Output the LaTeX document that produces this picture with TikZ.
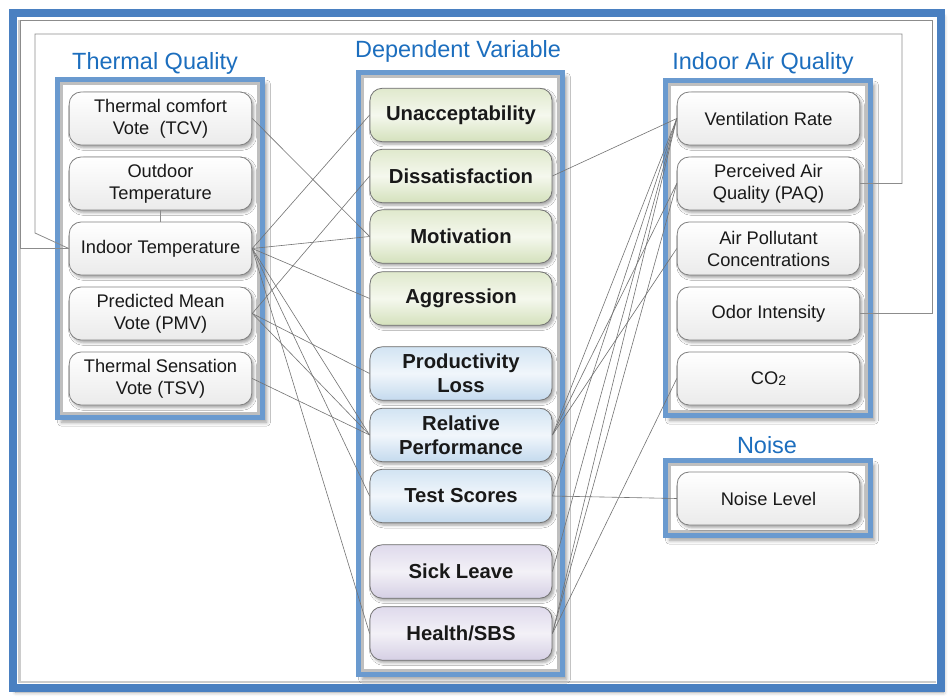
\documentclass[tikz,border=0pt]{standalone}
\usepackage{fontspec}
\setmainfont{Liberation Sans}
\usetikzlibrary{shadows.blur}

\definecolor{framebl}{RGB}{74,128,193}
\definecolor{boxbl}{RGB}{106,154,207}
\definecolor{headbl}{RGB}{28,110,190}
\definecolor{nodeln}{RGB}{128,128,128}

\begin{document}
\begin{tikzpicture}[x=0.75pt,y=-0.75pt,
    var/.style={draw=nodeln, line width=0.6pt, rounded corners=9pt,
      top color=white, bottom color=black!8,
      minimum width=137pt, minimum height=39.75pt, inner sep=0pt, align=center,
      font=\fontsize{13.7}{16.5}\selectfont, text=black!90,
      blur shadow={shadow xshift=1.6pt, shadow yshift=-2pt, shadow blur radius=2pt, shadow opacity=35}},
    dep/.style={var, draw=black!55, minimum width=136.5pt, minimum height=40pt,
      font=\fontsize{15.2}{18}\selectfont\bfseries},
    depgreen/.style={dep, top color={rgb,255:red,224;green,233;blue,205}, bottom color={rgb,255:red,212;green,225;blue,188},
      middle color={rgb,255:red,245;green,248;blue,238}},
    depblue/.style={dep, top color={rgb,255:red,210;green,228;blue,243}, bottom color={rgb,255:red,196;green,218;blue,238},
      middle color={rgb,255:red,241;green,246;blue,251}},
    deppurple/.style={dep, top color={rgb,255:red,223;green,218;blue,236}, bottom color={rgb,255:red,213;green,207;blue,228},
      middle color={rgb,255:red,243;green,241;blue,247}},
    grpbox/.style={draw=boxbl, line width=3.75pt, fill=white,
      blur shadow={shadow xshift=3pt, shadow yshift=-3.5pt, shadow blur radius=3pt, shadow opacity=40}},
    bevel/.style={draw=black!25, line width=2pt},
    header/.style={text=headbl, font=\fontsize{17.6}{20}\selectfont},
    link/.style={draw=black!55, line width=0.45pt},
    route/.style={draw=black!45, line width=0.6pt}]

  \useasboundingbox (0,0) rectangle (948,698);

  % outer frame
  \draw[draw=framebl, line width=6pt, fill=white,
    blur shadow={shadow xshift=2pt, shadow yshift=-3pt, shadow blur radius=3pt, shadow opacity=40}]
    (13,13) rectangle (941,688);
  \draw[bevel, draw=black!20] (19.5,20) -- (19.5,682) -- (936,682);

  % group boxes
  \draw[grpbox] (57.5,79.5) rectangle (262.5,417.5);
  \draw[bevel] (61.3,83.3) rectangle (258.7,413.7);
  \draw[grpbox] (358.5,72.5) rectangle (562.5,674.5);
  \draw[bevel] (362.3,76.3) rectangle (558.7,670.7);
  \draw[grpbox] (665.5,80.5) rectangle (870.5,415.5);
  \draw[bevel] (669.3,84.3) rectangle (866.7,411.7);
  \draw[grpbox] (665.5,460.5) rectangle (870.5,535.5);
  \draw[bevel] (669.3,464.3) rectangle (866.7,531.7);

  % headers
  \node[header] (hdrthermal) at (155,63) {Thermal Quality};
  \node[header] (hdrdep) at (458,51) {Dependent Variable};
  \node[header] (hdriaq) at (763,63) {Indoor Air Quality};
  \node[header] (hdrnoise) at (767,445) {Noise};

  % thermal quality
  \node[var] (tcv) at (160.5,118.5) {Thermal comfort\\Vote\ \ (TCV)};
  \node[var] (outdoor) at (160.5,183.5) {Outdoor\\Temperature};
  \node[var] (indoor) at (160.5,248.5) {Indoor Temperature};
  \node[var] (pmv) at (160.5,313.5) {Predicted Mean\\Vote (PMV)};
  \node[var] (tsv) at (160.5,378.5) {Thermal Sensation\\Vote (TSV)};

  % dependent variables
  \node[depgreen] (unaccept) at (461,115) {Unacceptability};
  \node[depgreen] (dissat) at (461,176) {Dissatisfaction};
  \node[depgreen] (motiv) at (461,236.5) {Motivation};
  \node[depgreen] (aggr) at (461,298.5) {Aggression};
  \node[depblue] (prodloss) at (461,373.5) {Productivity\\Loss};
  \node[depblue] (relperf) at (461,435) {Relative\\Performance};
  \node[depblue] (testsc) at (461,496) {Test Scores};
  \node[deppurple] (sickleave) at (461,571.5) {Sick Leave};
  \node[deppurple] (health) at (461,633.5) {Health/SBS};

  % indoor air quality and noise
  \node[var] (vent) at (768.5,118.5) {Ventilation Rate};
  \node[var] (paq) at (768.5,183.5) {Perceived Air\\Quality (PAQ)};
  \node[var] (airpol) at (768.5,248.5) {Air Pollutant\\Concentrations};
  \node[var] (odor) at (768.5,313.5) {Odor Intensity};
  \node[var] (cotwo) at (768.5,378.5) {CO\raisebox{-0.6pt}{\fontsize{10.5}{12}\selectfont 2}};
  \node[var] (noiselvl) at (768.5,498.5) {Noise Level};

  % routed lines along the frame
  \coordinate (routeA) at (20,20);
  \coordinate (routeB) at (932,20);
  \coordinate (routeC) at (35,233);
  \coordinate (routeD) at (35,34);
  \coordinate (routeE) at (902,34);
  \draw[route] (indoor.west) -| (routeA) -- (routeB) |- (odor.east);
  \draw[route] (indoor.west) -- (routeC) -- (routeD) -- (routeE) |- (paq.east);
  \draw[route] (outdoor) -- (indoor);

  \begin{scope}[link]
    \draw (tcv.east) to (motiv.west);
    \draw (indoor.east) to (unaccept.west);
    \draw (indoor.east) to (motiv.west);
    \draw (indoor.east) to (aggr.west);
    \draw (indoor.east) to (relperf.west);
    \draw (indoor.east) to (testsc.west);
    \draw (indoor.east) to (health.west);
    \draw (pmv.east) to (dissat.west);
    \draw (pmv.east) to (prodloss.west);
    \draw (pmv.east) to (relperf.west);
    \draw (tsv.east) to (relperf.west);
    \draw (dissat.east) to (vent.west);
    \draw (relperf.east) to (vent.west);
    \draw (relperf.east) to (paq.west);
    \draw (relperf.east) to (airpol.west);
    \draw (testsc.east) to (vent.west);
    \draw (testsc.east) to (noiselvl.west);
    \draw (sickleave.east) to (vent.west);
    \draw (health.east) to (vent.west);
    \draw (health.east) to (paq.west);
    \draw (health.east) to (cotwo.west);
  \end{scope}
\end{tikzpicture}
\end{document}
